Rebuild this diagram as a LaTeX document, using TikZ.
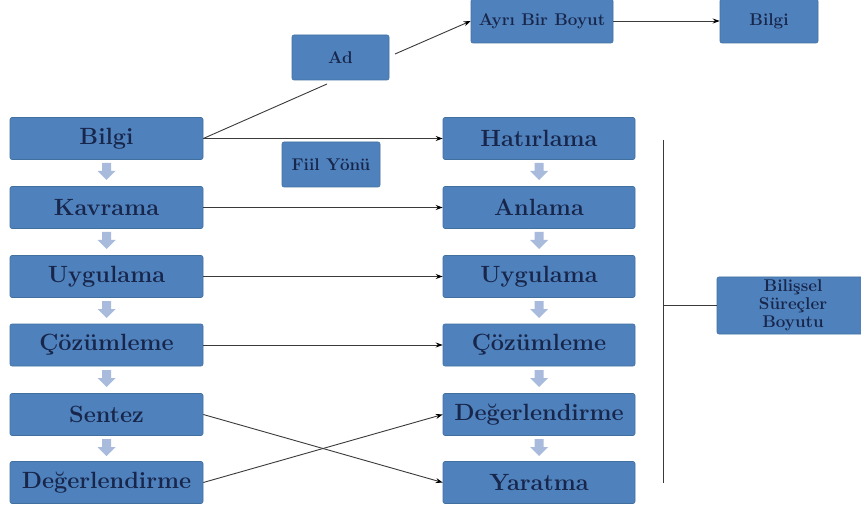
\documentclass[tikz,border=0pt]{standalone}
\usepackage{fontspec}
\usetikzlibrary{arrows.meta}
\definecolor{boxblue}{HTML}{4F81BD}
\definecolor{boxedge}{HTML}{41709F}
\definecolor{boxtext}{HTML}{17264A}
\definecolor{arrgrey}{HTML}{A9BBDD}
\definecolor{linegrey}{HTML}{3A3A3A}
\tikzset{
  box/.style={fill=boxblue, draw=boxedge, line width=0.6pt, rounded corners=2pt,
    text=boxtext, inner sep=1pt, align=center},
  bigbox/.style={box, minimum height=42pt, font=\fontsize{23.5}{25}\selectfont\bfseries},
  smallbox/.style={box, font=\fontsize{17}{18}\selectfont\bfseries},
  conn/.style={draw=linegrey, line width=0.9pt},
  arr/.style={conn, -{Stealth[length=7pt,width=5pt,color=black]}},
  downarrow/.pic={\fill[arrgrey] (-4.5,0) -- (4.5,0) -- (4.5,8) -- (9,8) -- (0,17) -- (-9,8) -- (-4.5,8) -- cycle;}
}
\begin{document}
\begin{tikzpicture}[x=1pt,y=-1pt]
\clip (0,0) rectangle (861,510);
\fill[white] (0,0) rectangle (861,510);
% left column
\node[bigbox, minimum width=193pt] (L1) at (106.5,138.5) {Bilgi};
\node[bigbox, minimum width=193pt] (L2) at (106.5,207.5) {Kavrama};
\node[bigbox, minimum width=193pt] (L3) at (106.5,276.5) {Uygulama};
\node[bigbox, minimum width=193pt] (L4) at (106.5,345) {Çözümleme};
\node[bigbox, minimum width=193pt] (L5) at (106.5,414.5) {Sentez};
\node[bigbox, minimum width=193pt] (L6) at (106.5,482.5) {Değerlendirme};
% right column
\node[bigbox, minimum width=192pt] (R1) at (539,138.5) {Hatırlama};
\node[bigbox, minimum width=192pt] (R2) at (539,207.5) {Anlama};
\node[bigbox, minimum width=192pt] (R3) at (539,276.5) {Uygulama};
\node[bigbox, minimum width=192pt] (R4) at (539,345) {Çözümleme};
\node[bigbox, minimum width=192pt] (R5) at (539,414.5) {Değerlendirme};
\node[bigbox, minimum width=192pt] (R6) at (539,482.5) {Yaratma};
% small boxes
\node[smallbox, minimum width=97pt, minimum height=45pt] (ad) at (340.5,57.5) {Ad};
\node[smallbox, minimum width=98pt, minimum height=45pt] (fiil) at (331,164.5) {Fiil Yönü};
\node[smallbox, minimum width=142pt, minimum height=44pt] (ayri) at (542,21) {Ayrı Bir Boyut};
\node[smallbox, minimum width=152pt, minimum height=44pt, minimum width=98pt] (bilgi2) at (769,21) {Bilgi};
\node[smallbox, minimum width=152pt, minimum height=57pt] (bil) at (793,305.5) {Bilişsel\\Süreçler\\Boyutu};
% down arrows between boxes
\foreach \y in {163,232,301,370,439} {
  \pic at (106.5,\y) {downarrow};
  \pic at (539,\y) {downarrow};
}
% connectors
\coordinate (adfoot) at (327,84);
\coordinate (adout) at (395,54);
\draw[conn] (L1.east) -- (adfoot);
\draw[arr] (adout) -- (ayri.west);
\draw[arr] (ayri.east) -- (bilgi2.west);
\draw[arr] (L1.east) -- (R1.west);
\draw[arr] (L2.east) -- (R2.west);
\draw[arr] (L3.east) -- (R3.west);
\draw[arr] (L4.east) -- (R4.west);
\draw[arr] (L5.east) -- (R6.west);
\draw[arr] (L6.east) -- (R5.west);
% bracket
\coordinate (vtop) at (663,140);
\coordinate (vbot) at (663,483);
\coordinate (vmid) at (663,305.5);
\draw[conn] (vtop) -- (vbot);
\draw[conn] (vmid) -- (bil.west);
\end{tikzpicture}
\end{document}
